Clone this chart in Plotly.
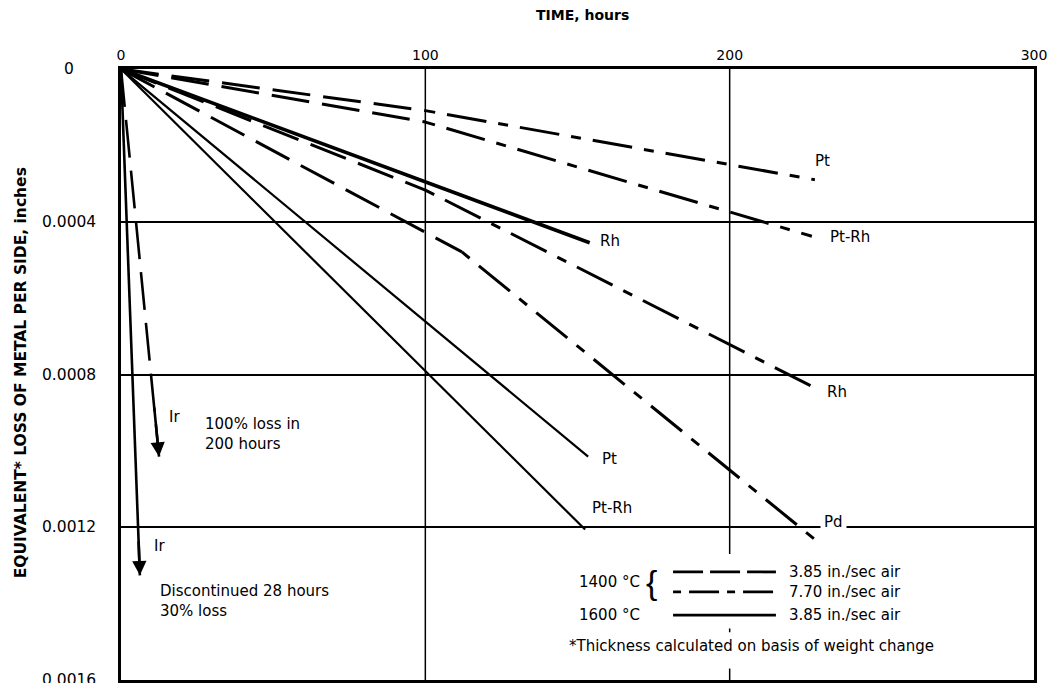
import plotly.graph_objects as go

# ---- data: time (hours) vs equivalent loss of metal per side (inches) ----
# 1400 C runs: first leg at 3.85 in./sec air, continued leg at 7.70 in./sec air
pt_1400_hours = [0, 100, 228]
pt_1400_loss = [0, 0.000109, 0.000290]
ptrh_1400_hours = [0, 100, 227]
ptrh_1400_loss = [0, 0.000139, 0.000438]
rh_1400_hours = [0, 100, 228]
rh_1400_loss = [0, 0.000317, 0.000835]
pd_1400_hours = [0, 112, 228]
pd_1400_loss = [0, 0.000479, 0.001232]
ir_1400_hours = [0, 12.5]
ir_1400_loss = [0, 0.001015]

# 1600 C runs at 3.85 in./sec air
rh_1600_hours = [0, 154]
rh_1600_loss = [0, 0.000455]
pt_1600_hours = [0, 153.5]
pt_1600_loss = [0, 0.001015]
ptrh_1600_hours = [0, 152.5]
ptrh_1600_loss = [0, 0.001206]
ir_1600_hours = [0, 6.2]
ir_1600_loss = [0, 0.001326]

x_ticks = [0, 100, 200, 300]
y_ticks = [0, 0.0004, 0.0008, 0.0012, 0.0016]
y_tick_text = ["0", "0.0004", "0.0008", "0.0012", "0.0016"]

FONT = "DejaVu Sans"
LONG_DASH = "38px,13px"
DASH_DOT = "10px,12px,40px,12px"
TXT = 15

fig = go.Figure()


def add_line(x, y, dash, width):
    fig.add_trace(go.Scatter(
        x=x, y=y, mode="lines", showlegend=False, hoverinfo="skip",
        line=dict(color="black", width=width, dash=dash),
    ))


# 1400 C: long-dash leg, then dash-dot continuation
for hrs, loss in [(pt_1400_hours, pt_1400_loss), (ptrh_1400_hours, ptrh_1400_loss),
                  (rh_1400_hours, rh_1400_loss), (pd_1400_hours, pd_1400_loss)]:
    add_line(hrs[:2], loss[:2], LONG_DASH, 3)
    add_line(hrs[1:], loss[1:], DASH_DOT, 3)

add_line(ir_1400_hours, ir_1400_loss, LONG_DASH, 2.6)

# 1600 C solid lines
add_line(rh_1600_hours, rh_1600_loss, "solid", 3.6)
add_line(pt_1600_hours, pt_1600_loss, "solid", 2.2)
add_line(ptrh_1600_hours, ptrh_1600_loss, "solid", 2.2)
add_line(ir_1600_hours, ir_1600_loss, "solid", 2.6)

annotations = []


def label(txt, x, y, size=TXT, **kw):
    d = dict(x=x, y=y, xref="x", yref="y", text=txt, showarrow=False,
             yanchor="middle", font=dict(family=FONT, size=size, color="black"))
    d.update(kw)
    annotations.append(d)


# arrowheads at the end of the iridium curves
for hrs, loss, frac in [(ir_1400_hours, ir_1400_loss, 0.87), (ir_1600_hours, ir_1600_loss, 0.93)]:
    annotations.append(dict(
        x=hrs[-1], y=loss[-1], ax=hrs[-1] * frac, ay=loss[-1] * frac,
        xref="x", yref="y", axref="x", ayref="y", text="",
        showarrow=True, arrowhead=2, arrowsize=1.1, arrowwidth=2.6, arrowcolor="black",
    ))

# curve labels
curve_labels = [
    ("Pt", 230.5, 0.000242),
    ("Pt-Rh", 239.6, 0.000440),
    ("Rh", 160.7, 0.000451),
    ("Rh", 235.3, 0.000846),
    ("Pt", 160.4, 0.001021),
    ("Pt-Rh", 161.4, 0.001150),
    ("Ir", 17.7, 0.000910),
    ("Ir", 12.8, 0.001250),
]
for txt, x, y in curve_labels:
    label(txt, x, y)
label("Pd", 234, 0.001185, bgcolor="white", borderpad=3)

# notes beside the iridium arrows
label("100% loss in<br>200 hours", 27.0, 0.000957, xanchor="left", align="left")
label("Discontinued 28 hours<br>30% loss", 12.0, 0.001392, xanchor="left", align="left")

# y tick labels, centred in the left margin
for v, t in zip(y_ticks, y_tick_text):
    annotations.append(dict(x=-0.057, y=v, xref="paper", yref="y", text=t, showarrow=False,
                            xanchor="center", yanchor="middle",
                            font=dict(family=FONT, size=15.5, color="black")))

# axis titles
annotations.append(dict(x=0.505, y=1.088, xref="paper", yref="paper", text="TIME, hours",
                        xanchor="center", yanchor="middle", showarrow=False,
                        font=dict(family=FONT, size=14, color="black", weight="bold")))
annotations.append(dict(x=-0.1095, y=0.502, xref="paper", yref="paper",
                        text="EQUIVALENT* LOSS OF METAL PER SIDE, inches", textangle=-90,
                        xanchor="center", yanchor="middle", showarrow=False,
                        font=dict(family=FONT, size=15.5, color="black", weight="bold")))

# key
key_rows = [
    (0.001317, "30px,7px", "3.85 in./sec air"),
    (0.001369, "8px,8px,30px,8px", "7.70 in./sec air"),
    (0.001430, "solid", "3.85 in./sec air"),
]
shapes = []
for y, dash, txt in key_rows:
    shapes.append(dict(type="line", xref="x", yref="y", x0=181.4, x1=215.2, y0=y, y1=y,
                       line=dict(color="black", width=2.8, dash=dash)))
    label(txt, 218.9, y, xanchor="left")
label("1400 °C", 160.4, 0.001343)
label("1600 °C", 160.4, 0.001430)
label("{", 174.4, 0.001343, font=dict(family="Liberation Sans", size=34, color="black"))
label("*Thickness calculated on basis of weight change", 146.6, 0.001512, xanchor="left")

# vertical grid lines (the 200 h line is interrupted by the key)
grid = dict(color="black", width=1.5)
shapes.append(dict(type="line", xref="x", yref="y", x0=100, x1=100, y0=0, y1=0.0016,
                   layer="below", line=grid))
shapes.append(dict(type="line", xref="x", yref="y", x0=200, x1=200, y0=0, y1=0.00127,
                   layer="below", line=grid))
shapes.append(dict(type="line", xref="x", yref="y", x0=200, x1=200, y0=0.001465, y1=0.001475,
                   layer="below", line=grid))
shapes.append(dict(type="line", xref="x", yref="y", x0=200, x1=200, y0=0.00157, y1=0.0016,
                   layer="below", line=grid))

fig.update_layout(
    width=1047, height=683,
    margin=dict(l=121, r=13, t=69, b=3),
    paper_bgcolor="white", plot_bgcolor="white",
    showlegend=False,
    annotations=annotations,
    shapes=shapes,
    xaxis=dict(
        range=[0, 300], side="top", tickvals=x_ticks, ticks="",
        tickfont=dict(family=FONT, size=14, color="black"),
        ticklabeloverflow="allow",
        showgrid=False, zeroline=False, automargin=False,
        showline=True, linecolor="black", linewidth=3, mirror=True,
    ),
    yaxis=dict(
        range=[0.0016, 0], tickvals=y_ticks[1:-1], showticklabels=False, ticks="",
        showgrid=True, gridcolor="black", gridwidth=1.5, zeroline=False, automargin=False,
        showline=True, linecolor="black", linewidth=3, mirror=True,
    ),
)

fig.write_html("out.html")
